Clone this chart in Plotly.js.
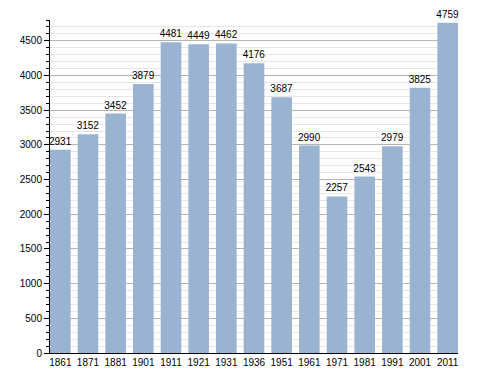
<!DOCTYPE html>
<html>
<head>
<meta charset="utf-8">
<script src="https://cdn.plot.ly/plotly-3.0.1.min.js"></script>
<style>html,body{margin:0;padding:0;background:#fff;}#chart{width:488px;height:373px;}</style>
</head>
<body>
<div id="chart"></div>
<script>
const years = ['1861','1871','1881','1901','1911','1921','1931','1936','1951','1961','1971','1981','1991','2001','2011'];
const population = [2931, 3152, 3452, 3879, 4481, 4449, 4462, 4176, 3687, 2990, 2257, 2543, 2979, 3825, 4759];
const yTicks = [0, 500, 1000, 1500, 2000, 2500, 3000, 3500, 4000, 4500];

const trace = {
  type: 'bar',
  x: years,
  y: population,
  text: population.map(String),
  textposition: 'outside',
  constraintext: 'none',
  textfont: {family: 'Liberation Sans, Arial, sans-serif', size: 10, color: '#000'},
  cliponaxis: false,
  marker: {color: '#9ab3d0', line: {width: 0}},
  hoverinfo: 'none'
};

const layout = {
  width: 488, height: 373,
  margin: {l: 50, r: 30, t: 20, b: 20, pad: 0},
  paper_bgcolor: '#fff', plot_bgcolor: '#fff',
  bargap: 0.255,
  showlegend: false,
  font: {family: 'Liberation Sans, Arial, sans-serif', size: 10, color: '#000'},
  xaxis: {
    type: 'category',
    range: [-0.373, 14.373],
    showline: true, linecolor: '#000', linewidth: 1,
    ticks: '', showgrid: false, zeroline: false,
    tickfont: {size: 10, color: '#000'},
    fixedrange: true
  },
  yaxis: {
    range: [0, 4800],
    tickvals: yTicks,
    ticktext: yTicks.map(String),
    showline: true, linecolor: '#000', linewidth: 1,
    ticks: 'outside', ticklen: 5, tickcolor: '#000', tickwidth: 1,
    showgrid: true, gridcolor: '#b4b4b4', gridwidth: 1,
    zeroline: false,
    tickfont: {size: 10, color: '#000'},
    minor: {dtick: 100, ticks: 'outside', ticklen: 3, tickcolor: '#000', showgrid: true, gridcolor: '#e6e6e6', gridwidth: 1},
    fixedrange: true
  }
};

Plotly.newPlot('chart', [trace], layout, {displayModeBar: false, staticPlot: true});
</script>
</body>
</html>
